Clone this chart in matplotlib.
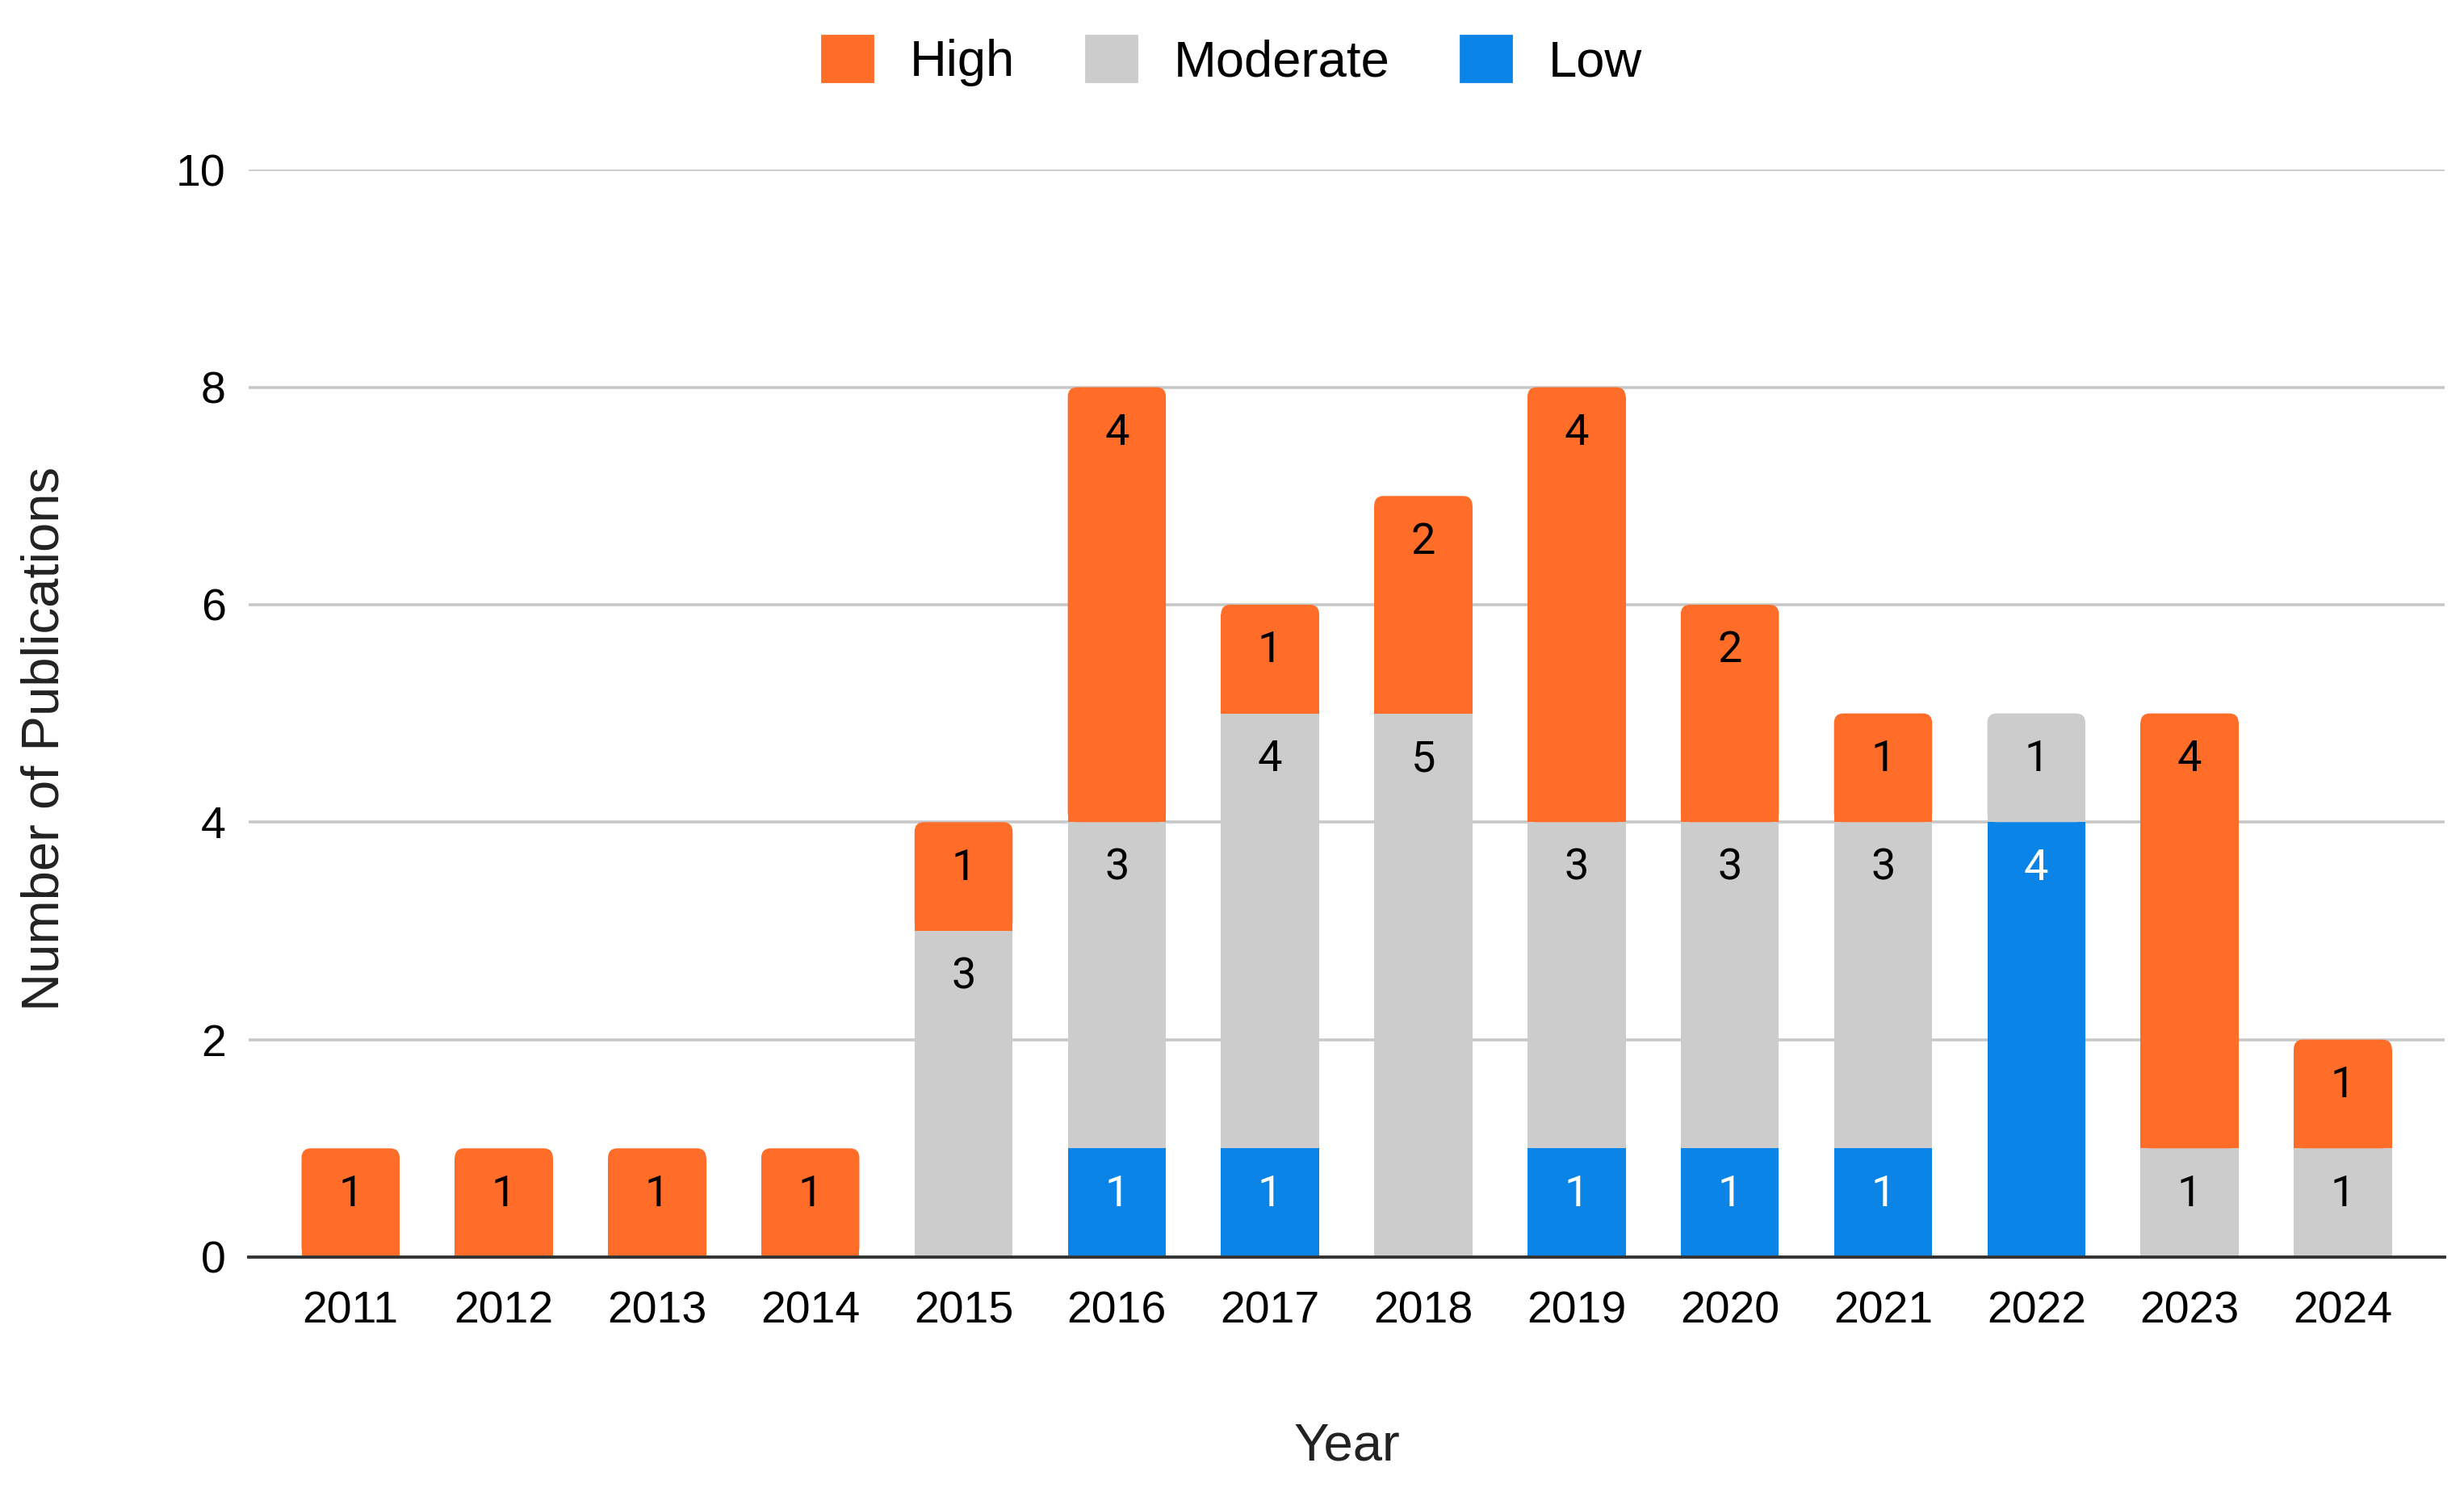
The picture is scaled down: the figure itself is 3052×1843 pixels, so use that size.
#stacked bars of publications per year by level

import matplotlib.pyplot as plt
import numpy as np
from matplotlib.patches import FancyBboxPatch, Patch

years = ['2011', '2012', '2013', '2014', '2015', '2016', '2017',
         '2018', '2019', '2020', '2021', '2022', '2023', '2024']
low = [0, 0, 0, 0, 0, 1, 1, 0, 1, 1, 1, 4, 0, 0]
moderate = [0, 0, 0, 0, 3, 3, 4, 5, 3, 3, 3, 1, 1, 1]
high = [1, 1, 1, 1, 1, 4, 1, 2, 4, 2, 1, 0, 4, 1]

c_high = '#ff6d29'
c_mod = '#cccccc'
c_low = '#0b84e8'

plt.rcParams['font.family'] = ['Liberation Sans', 'DejaVu Sans']

fig = plt.figure(figsize=(15.26, 9.215), dpi=200)
ax = fig.add_axes([0.1008, 0.1552, 0.8915, 0.7307])

x = np.arange(len(years))
w = 0.64
low_a = np.array(low)
mod_a = np.array(moderate)
high_a = np.array(high)

b_low = ax.bar(x, low_a, w, color=c_low, zorder=2)
b_mod = ax.bar(x, mod_a, w, bottom=low_a, color=c_mod, zorder=2)
b_high = ax.bar(x, high_a, w, bottom=low_a + mod_a, color=c_high, zorder=2)

#round the top corners of the top segment of each bar
rx = 0.06
ry = 0.087
tops = low_a + mod_a + high_a
for cont in (b_low, b_mod, b_high):
    for i, rect in enumerate(cont.patches):
        h = rect.get_height()
        if h <= 0:
            continue
        y0 = rect.get_y()
        if abs(y0 + h - tops[i]) < 1e-9:
            fb = FancyBboxPatch((rect.get_x(), y0), rect.get_width(), h,
                                boxstyle='round,pad=0,rounding_size=%f' % rx,
                                mutation_aspect=ry / rx,
                                facecolor=rect.get_facecolor(), edgecolor='none',
                                zorder=2)
            ax.add_patch(fb)
            rect.set_height(h - ry)

#value labels near the top of each segment
for vals, bottoms, col in ((low_a, np.zeros(len(x)), 'white'),
                           (mod_a, low_a, 'black'),
                           (high_a, low_a + mod_a, 'black')):
    for xi, v, b in zip(x, vals, bottoms):
        if v > 0:
            ax.annotate(str(v), (xi, b + v), xytext=(0, -20.5),
                        textcoords='offset points', ha='center', va='center',
                        fontsize=19.5, color=col, family=['Roboto', 'DejaVu Sans'],
                        zorder=3)

ax.set_xlim(-0.667, 13.667)
ax.set_ylim(0, 10)
ax.set_xticks(x)
ax.set_xticklabels(years)
ax.set_yticks([0, 2, 4, 6, 8, 10])
ax.tick_params(axis='both', length=0, labelsize=20)
ax.tick_params(axis='x', pad=15)
ax.tick_params(axis='y', pad=10)
ax.yaxis.grid(True, color='#c8c8c8', linewidth=1.3, zorder=0)
ax.set_axisbelow(True)
for s in ['top', 'right', 'left']:
    ax.spines[s].set_visible(False)
ax.spines['bottom'].set_color('#333333')
ax.spines['bottom'].set_linewidth(1.4)
ax.spines['bottom'].set_zorder(4)

ax.set_xlabel('Year', fontsize=23.5, labelpad=40, color='#222222')
ax.set_ylabel('Number of Publications', fontsize=23.5, color='#222222')
ax.yaxis.set_label_coords(-0.0815, 0.477)

handles = [Patch(color=c_high, label='High'),
           Patch(color=c_mod, label='Moderate'),
           Patch(color=c_low, label='Low')]
fig.legend(handles=handles, loc='center', bbox_to_anchor=(0.5, 0.959), ncol=3,
           frameon=False, fontsize=22.8, handlelength=1.0, handleheight=1.0,
           handletextpad=0.72, columnspacing=1.38)

fig.savefig('out.png', dpi=200, facecolor='white')
